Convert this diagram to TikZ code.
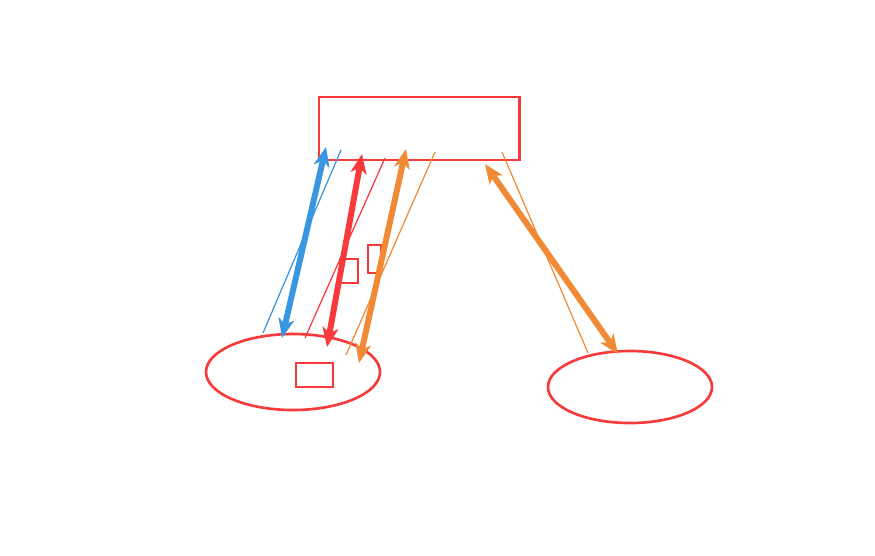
\documentclass[tikz,border=0pt]{standalone}
\usetikzlibrary{arrows.meta,shapes.geometric}
\definecolor{NetRed}{HTML}{F83A3A}
\definecolor{NetBlue}{HTML}{3A96E0}
\definecolor{NetOrange}{HTML}{F28A35}
\begin{document}
\begin{tikzpicture}[
      x=0.02cm,y=-0.02cm,
      box/.style={draw=NetRed,line width=1.7pt,inner sep=0pt},
      host/.style={ellipse,draw=NetRed,line width=1.5pt,inner sep=0pt},
      tag/.style={draw=NetRed,line width=1.3pt,inner sep=0pt},
      bigmsg/.style={{Stealth[length=11pt,width=9pt,inset=3pt]}-{Stealth[length=11pt,width=9pt,inset=3pt]},line width=3.4pt},
      thinmsg/.style={line width=0.7pt}
    ]
    \path[use as bounding box] (0,0) rectangle (875,555);
    % boxes
    \node[box,minimum width=200*0.02cm,minimum height=63*0.02cm] (srv) at (419,128.5) {};
    \node[host,minimum width=174*0.02cm,minimum height=76*0.02cm] (hostA) at (293,372) {};
    \node[host,minimum width=164*0.02cm,minimum height=72*0.02cm] (hostB) at (630,387) {};
    \node[tag,minimum width=37*0.02cm,minimum height=24*0.02cm] (tagA) at (314.5,375) {};
    \node[tag,minimum width=18*0.02cm,minimum height=24*0.02cm] (tagB) at (349,271) {};
    \node[tag,minimum width=13*0.02cm,minimum height=28*0.02cm] (tagC) at (374.5,259) {};

    % end points
    \coordinate (b1) at (326,147);  \coordinate (b2) at (282,338);
    \coordinate (b3) at (341,150);  \coordinate (b4) at (263,333);
    \coordinate (r1) at (362,154);  \coordinate (r2) at (327,347);
    \coordinate (r3) at (385,158);  \coordinate (r4) at (305,338);
    \coordinate (o1) at (406,149);  \coordinate (o2) at (359,363);
    \coordinate (o3) at (435,152);  \coordinate (o4) at (346,355);
    \coordinate (o5) at (485,164);  \coordinate (o6) at (618,354);
    \coordinate (o7) at (502,152);  \coordinate (o8) at (588,353);

    % links
    \draw[bigmsg,draw=NetBlue,fill=NetBlue] (b1) -- (b2);
    \draw[thinmsg,draw=NetBlue] (b3) -- (b4);
    \draw[bigmsg,draw=NetRed,fill=NetRed] (r1) -- (r2);
    \draw[thinmsg,draw=NetRed] (r3) -- (r4);
    \draw[bigmsg,draw=NetOrange,fill=NetOrange] (o1) -- (o2);
    \draw[thinmsg,draw=NetOrange] (o3) -- (o4);
    \draw[bigmsg,draw=NetOrange,fill=NetOrange] (o5) -- (o6);
    \draw[thinmsg,draw=NetOrange] (o7) -- (o8);
  \end{tikzpicture}
\end{document}
